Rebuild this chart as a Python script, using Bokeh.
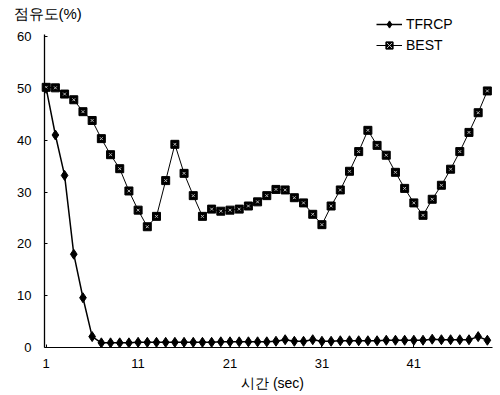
from bokeh.plotting import figure
from bokeh.models import Range1d, Legend, LegendItem, FixedTicker, ColumnDataSource, Label
from bokeh.embed import file_html
from bokeh.resources import INLINE

time_sec = list(range(1, 50))
tfrcp = [50, 41, 33.2, 18, 9.6, 2.1, 0.9, 0.9, 0.9, 0.9,
         1.0, 1.0, 1.0, 1.0, 1.0, 1.0, 1.0, 1.0, 1.0, 1.1,
         1.1, 1.1, 1.1, 1.1, 1.1, 1.2, 1.5, 1.2, 1.2, 1.5,
         1.2, 1.2, 1.3, 1.3, 1.3, 1.3, 1.3, 1.4, 1.4, 1.4,
         1.4, 1.4, 1.6, 1.5, 1.5, 1.5, 1.5, 2.1, 1.4]
best = [50.2, 50.1, 48.9, 47.8, 45.5, 43.8, 40.3, 37.2, 34.5, 30.2,
        26.5, 23.3, 25.3, 32.2, 39.2, 33.6, 29.3, 25.3, 26.7, 26.3,
        26.5, 26.7, 27.3, 28.1, 29.3, 30.5, 30.4, 28.9, 27.9, 25.7,
        23.7, 27.3, 30.4, 34.0, 37.8, 41.9, 39.0, 37.1, 33.8, 30.7,
        27.9, 25.5, 28.6, 31.3, 34.4, 37.8, 41.5, 45.3, 49.5]
x_ticks = [1, 11, 21, 31, 41]
y_ticks = [0, 10, 20, 30, 40, 50, 60]

src = ColumnDataSource(dict(t=time_sec, tfrcp=tfrcp, best=best))

FONT = "Liberation Sans"
X0 = 0.815   # where the y axis sits (data x)
XMAX = 49.56  # end of the x axis line

p = figure(width=500, height=395, output_backend="svg", toolbar_location=None,
           x_range=Range1d(-3.973, 50.43), y_range=Range1d(-9.261, 66.95),
           min_border_left=0, min_border_right=0, min_border_top=0, min_border_bottom=0)
p.outline_line_color = None
p.grid.visible = False
p.background_fill_color = "white"

# series
l1 = p.line("t", "tfrcp", source=src, line_color="black", line_width=1.5)
m1 = p.scatter("t", "tfrcp", source=src, marker="diamond", size=10,
               fill_color="black", line_color="black")
l2 = p.line("t", "best", source=src, line_color="black", line_width=1)
m2 = p.scatter("t", "best", source=src, marker="square", size=8,
               fill_color="black", line_color="black")
m2b = p.scatter("t", "best", source=src, marker="x", size=4,
                line_color="#bbbbbb", line_width=1)

# axes
xa = p.xaxis[0]
xa.fixed_location = 0
xa.ticker = FixedTicker(ticks=x_ticks)
xa.bounds = (X0, XMAX)
xa.major_label_text_font = FONT
xa.major_label_text_font_size = "13px"
xa.major_label_standoff = 11
xa.major_tick_in = 3
xa.major_tick_out = 0
xa.minor_tick_line_color = None
xa.axis_line_color = "black"
xa.major_label_text_color = "black"

ya = p.yaxis[0]
ya.fixed_location = X0
ya.ticker = FixedTicker(ticks=y_ticks)
ya.bounds = (0, 60.3)
ya.major_label_text_font = FONT
ya.major_label_text_font_size = "13px"
ya.major_label_standoff = 13
ya.major_tick_in = 3
ya.major_tick_out = 0
ya.minor_tick_line_color = None
ya.axis_line_color = "black"
ya.axis_line_width = 1.3
ya.major_label_text_color = "black"

# axis titles (screen units relative to the frame, which fills the figure)
p.add_layout(Label(x=13, y=382, x_units="screen", y_units="screen", text="점유도(%)",
                   text_font=FONT, text_font_size="15px", text_color="black",
                   text_baseline="middle"))
p.add_layout(Label(x=272, y=13, x_units="screen", y_units="screen", text="시간 (sec)",
                   text_font=FONT, text_font_size="14px", text_color="black",
                   text_baseline="middle", text_align="center"))

legend = Legend(items=[LegendItem(label="TFRCP", renderers=[l1, m1]),
                       LegendItem(label="BEST", renderers=[l2, m2, m2b])],
                location=(376, 341))
legend.border_line_color = None
legend.background_fill_alpha = 0
legend.padding = 0
legend.margin = 0
legend.spacing = 3
legend.glyph_width = 26
legend.glyph_height = 18
legend.label_height = 18
legend.label_standoff = 4
legend.label_text_font = FONT
legend.label_text_font_size = "14px"
legend.label_text_color = "black"
p.add_layout(legend, "center")

open("out.html", "w").write(file_html(p, INLINE))
